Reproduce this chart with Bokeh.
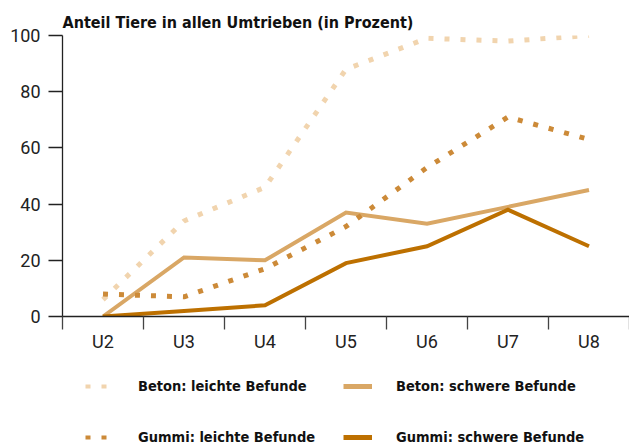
from bokeh.plotting import figure
from bokeh.layouts import column
from bokeh.models import Range1d, FixedTicker, Legend, LegendItem
from bokeh.embed import file_html
from bokeh.resources import INLINE

categories = ["U2", "U3", "U4", "U5", "U6", "U7", "U8"]
beton_leicht = [6, 34, 46, 88, 99, 98, 100]
beton_schwer = [0, 21, 20, 37, 33, 39, 45]
gummi_leicht = [8, 7, 17, 32, 53, 71, 63]
gummi_schwer = [0, 2, 4, 19, 25, 38, 25]
y_ticks = [0, 20, 40, 60, 80, 100]
title_text = "Anteil Tiere in allen Umtrieben (in Prozent)"

series = [
    ("Beton: leichte Befunde", beton_leicht, "#f1d4ae", "dotted"),
    ("Beton: schwere Befunde", beton_schwer, "#d9a765", "solid"),
    ("Gummi: leichte Befunde", gummi_leicht, "#cc8a38", "dotted"),
    ("Gummi: schwere Befunde", gummi_schwer, "#bd7000", "solid"),
]

NARROW = "'Liberation Sans Narrow', 'DejaVu Sans Condensed', sans-serif"
TICKFONT = "Roboto"

xs = [i + 0.5 for i in range(len(categories))]

p = figure(width=629, height=360, x_range=Range1d(0, len(categories)), y_range=Range1d(0, 100),
           output_backend="svg", toolbar_location=None,
           min_border_left=62, min_border_right=0, min_border_top=35, min_border_bottom=44)
p.outline_line_color = None
p.xgrid.visible = False
p.ygrid.visible = False
p.background_fill_color = "white"
p.border_fill_color = "white"

p.title.text = title_text
p.title.align = "left"
p.title.text_font = NARROW
p.title.text_font_style = "bold"
p.title.text_font_size = "16px"
p.title.text_color = "#111111"
p.title.offset = 0
p.title.standoff = 8

# x axis: labels at centres, ticks at boundaries
p.xaxis.ticker = FixedTicker(ticks=xs, minor_ticks=list(range(len(categories) + 1)))
p.xaxis.major_label_overrides = {x: c for x, c in zip(xs, categories)}
p.xaxis.major_tick_out = 0
p.xaxis.major_tick_in = 0
p.xaxis.minor_tick_out = 13
p.xaxis.minor_tick_in = 0
p.xaxis.minor_tick_line_color = "#444444"
p.xaxis.minor_tick_line_width = 1.3
p.xaxis.major_label_standoff = 1
p.xaxis.major_label_text_font = TICKFONT
p.xaxis.major_label_text_font_size = "18px"
p.xaxis.major_label_text_color = "#222222"
p.xaxis.axis_line_color = "#222222"
p.xaxis.axis_line_width = 1.3

p.yaxis.ticker = FixedTicker(ticks=y_ticks)
p.yaxis.minor_tick_line_color = None
p.yaxis.major_tick_out = 14
p.yaxis.major_tick_in = 0
p.yaxis.major_tick_line_color = "#222222"
p.yaxis.major_tick_line_width = 1.3
p.yaxis.major_label_standoff = 8
p.yaxis.major_label_text_font = TICKFONT
p.yaxis.major_label_text_font_size = "18px"
p.yaxis.major_label_text_color = "#222222"
p.yaxis.axis_line_color = "#222222"
p.yaxis.axis_line_width = 1.3

for name, vals, color, style in series:
    if style == "dotted":
        p.line(xs, vals, line_color=color, line_width=5, line_dash="5 11", line_cap="butt")
    else:
        p.line(xs, vals, line_color=color, line_width=4, line_join="miter")

# legend panel below the chart (its frame is aligned with the chart frame by the column)
lp = figure(width=629, height=85, x_range=Range1d(0, 1), y_range=Range1d(0, 1),
            output_backend="svg", toolbar_location=None,
            x_axis_location=None, y_axis_location=None,
            min_border_left=0, min_border_right=0, min_border_top=0, min_border_bottom=0)
lp.outline_line_color = None
lp.xgrid.visible = False
lp.ygrid.visible = False
lp.background_fill_color = "white"
lp.border_fill_color = "white"

legend_renderers = {}
for name, vals, color, style in series:
    if style == "dotted":
        r = lp.line(xs, vals, line_color=color, line_width=4, line_dash="5 11", line_cap="butt",
                    visible=False)
    else:
        r = lp.line(xs, vals, line_color=color, line_width=5, visible=False)
    legend_renderers[name] = r

def make_legend(names, x, gw, standoff):
    return Legend(items=[LegendItem(label=n, renderers=[legend_renderers[n]]) for n in names],
                  location=(x, 0), orientation="vertical",
                  glyph_width=gw, glyph_height=12, label_height=12, label_standoff=standoff,
                  spacing=35, padding=0, margin=0,
                  label_text_font=NARROW, label_text_font_style="bold",
                  label_text_font_size="14.5px", label_text_color="#111111",
                  border_line_alpha=0, background_fill_alpha=0)

lp.add_layout(make_legend([series[0][0], series[2][0]], 23, 25, 28), "center")
lp.add_layout(make_legend([series[1][0], series[3][0]], 281, 29, 24), "center")

layout = column(p, lp, spacing=0)
open("out.html", "w").write(file_html(layout, INLINE))
